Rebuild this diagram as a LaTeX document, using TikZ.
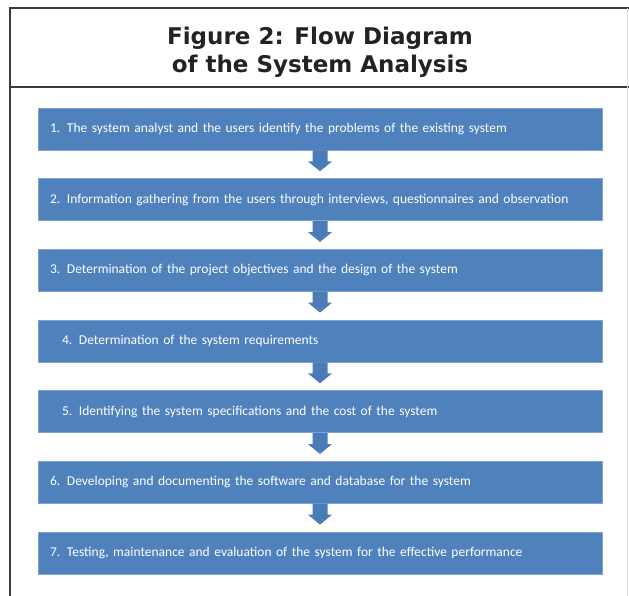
\documentclass[tikz,border=0pt]{standalone}
\usepackage{fontspec}
\usetikzlibrary{calc}
\newfontfamily\titlefont{DejaVu Sans}
\newfontfamily\boxfont{Carlito}
\definecolor{boxblue}{HTML}{4F81BD}
\definecolor{boxedge}{HTML}{7FA2CF}
\definecolor{arrowblue}{HTML}{4A7DB8}
\definecolor{framegray}{HTML}{3A3A3A}
\definecolor{titlegray}{HTML}{222222}
\tikzset{
  stepbox/.style={rectangle, fill=boxblue, draw=boxedge, line width=0.8pt,
    minimum width=564pt, minimum height=42pt, text width=540pt, inner xsep=12pt,
    align=left, text=white, font=\boxfont\fontsize{13.5}{15}\selectfont},
  framestroke/.style={draw=framegray, line width=1.4pt},
  blockarrow/.style={fill=arrowblue}
}
\newcommand{\downarrowblock}[2]{%
  \fill[blockarrow] ($(#1.south)+(-7.5,0)$) -- ++(0,11) -- ++(-4.5,0)
    -- ($(#2.north)+(0,-7)$) -- ($(#1.south)+(12,11)$) -- ++(-4.5,0)
    -- ++(0,-11) -- cycle;}
\begin{document}
\begin{tikzpicture}[x=1pt,y=-1pt]
\useasboundingbox (0,0) rectangle (629,596);
\fill[white] (0,0) rectangle (629,596);
% frame
\draw[framestroke] (10,596) -- (10,8) -- (629,8);
\draw[framestroke] (10,87) -- (629,87);
\draw[draw=black!12, line width=1pt] (627,8) -- (627,596);
% title
\node[font=\titlefont\bfseries\fontsize{23}{28}\selectfont, text=titlegray, align=center] (title) at (320,52)
  {Figure 2: Flow Diagram\\of the System Analysis};
% steps
\node[stepbox] (b1) at (320,129) {1. The system analyst and the users identify the problems of the existing system};
\node[stepbox] (b2) at (320,199.7) {2. Information gathering from the users through interviews, questionnaires and observation};
\node[stepbox] (b3) at (320,270.3) {3. Determination of the project objectives and the design of the system};
\node[stepbox] (b4) at (320,341) {\hspace*{12pt}4. Determination of the system requirements};
\node[stepbox] (b5) at (320,411.7) {\hspace*{12pt}5. Identifying the system specifications and the cost of the system};
\node[stepbox] (b6) at (320,482.3) {6. Developing and documenting the software and database for the system};
\node[stepbox] (b7) at (320,553) {7. Testing, maintenance and evaluation of the system for the effective performance};
% arrows
\downarrowblock{b1}{b2}
\downarrowblock{b2}{b3}
\downarrowblock{b3}{b4}
\downarrowblock{b4}{b5}
\downarrowblock{b5}{b6}
\downarrowblock{b6}{b7}
\end{tikzpicture}
\end{document}
